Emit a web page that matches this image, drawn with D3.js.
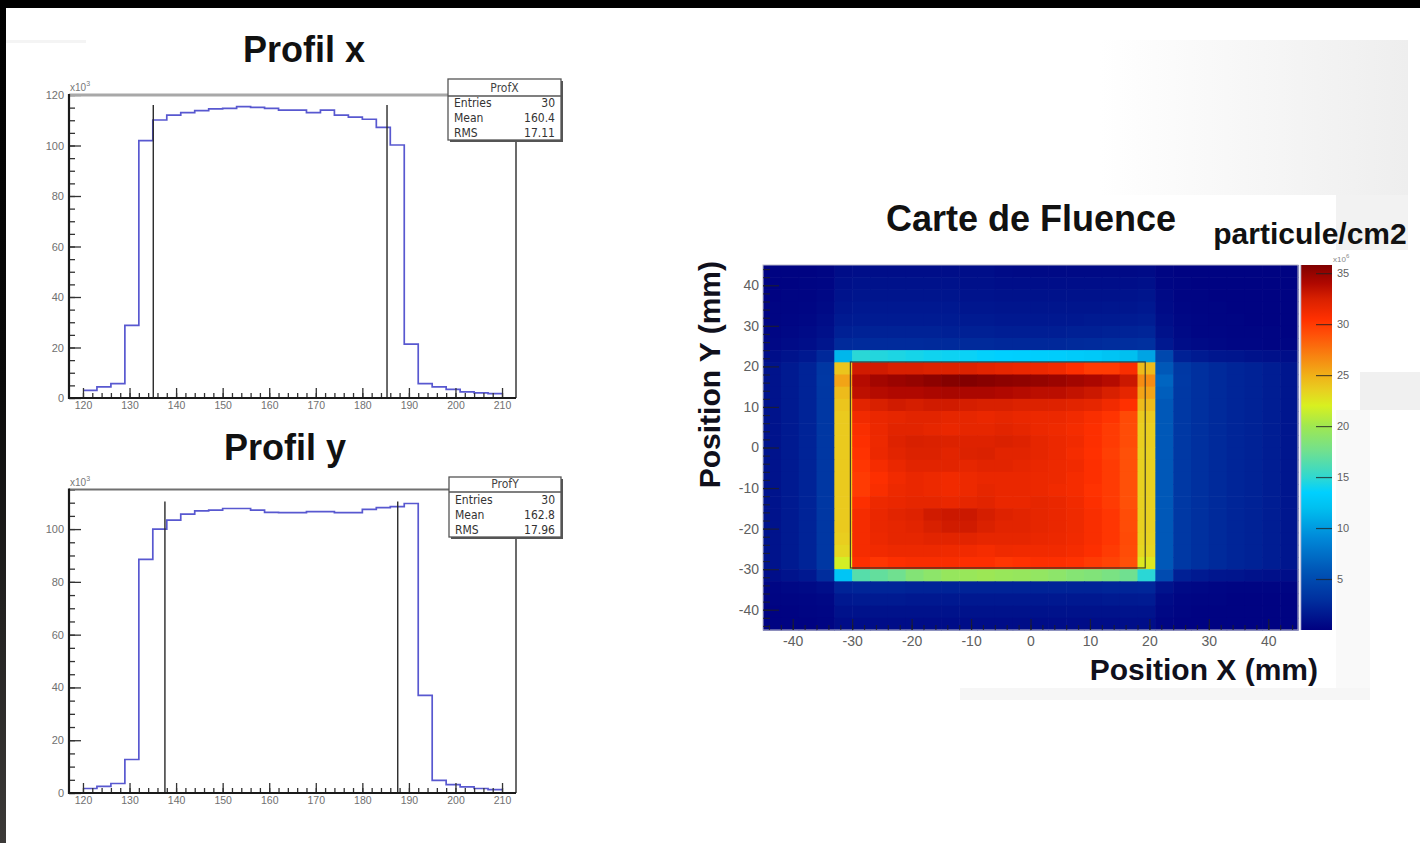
<!DOCTYPE html>
<html>
<head>
<meta charset="utf-8">
<script src="https://cdn.jsdelivr.net/npm/d3@7"></script>
<style>
  html, body { margin: 0; padding: 0; background: #000; }
  svg { display: block; }
</style>
</head>
<body>
<svg id="chart" width="1420" height="843"></svg>
<script>
// ---------------- data ----------------
// 1D profiles: 30 bins of 3 units, contents in units of 10^3
const binEdges = [120,123,126,129,132,135,138,141,144,147,150,153,156,159,162,165,
                  168,171,174,177,180,183,186,189,192,195,198,201,204,207,210];
const profXValues = [3.0,4.4,5.7,28.8,101.9,110.1,112.0,113.0,113.8,114.5,
                     114.7,115.4,115.1,114.7,114.0,114.0,113.0,114.0,112.0,111.2,
                     110.4,107.2,100.2,21.3,5.7,4.4,3.4,2.4,2.0,1.7];
const profYValues = [1.7,2.5,3.6,12.7,88.5,100.0,103.4,105.7,106.9,107.2,
                     107.8,107.8,107.2,106.3,106.2,106.2,106.6,106.6,106.2,106.2,
                     107.5,108.1,108.5,109.7,37.0,4.8,3.2,2.3,1.7,1.3];
const profXMarkers = [135.1, 185.3];
const profYMarkers = [137.6, 187.6];
const profXMarkerTop = [116];
const profYMarkerTop = [110.5];
const profXStats = [["Entries","30"],["Mean","160.4"],["RMS","17.11"]];
const profYStats = [["Entries","30"],["Mean","162.8"],["RMS","17.96"]];
const profXTicks = [120,130,140,150,160,170,180,190,200,210];
const profXYTicks = [0,20,40,60,80,100,120];
const profYYTicks = [0,20,40,60,80,100];

// 2D fluence map: 30 x 30 bins of 3 mm, top row (y = 42..45) first
const mapEdges = [-45,-42,-39,-36,-33,-30,-27,-24,-21,-18,-15,-12,-9,-6,-3,0,
                  3,6,9,12,15,18,21,24,27,30,33,36,39,42,45];
const fluenceRows = [
 [0.2,0.2,0.2,0.3, 0.8,0.9,0.9,0.9,0.9,0.9,0.9,0.9,0.9,0.7,0.6,0.6,0.6,0.6,0.6,0.6,0.6,0.7, 0.3,0.2,0.2,0.2,0.2,0.2,0.2,0.2],
 [0.2,0.2,0.3,0.4, 1.0,1.1,1.1,1.1,1.1,1.1,1.1,1.0,1.0,0.9,0.9,0.9,0.9,0.9,0.9,0.9,0.9,1.0, 0.4,0.3,0.2,0.2,0.2,0.2,0.2,0.2],
 [0.2,0.3,0.3,0.5, 1.2,1.3,1.3,1.3,1.3,1.3,1.3,1.2,1.2,1.1,1.1,1.1,1.1,1.1,1.1,1.1,1.2,1.3, 0.6,0.3,0.3,0.2,0.2,0.2,0.2,0.2],
 [0.3,0.3,0.4,0.6, 1.4,1.5,1.5,1.5,1.5,1.5,1.5,1.4,1.4,1.3,1.3,1.3,1.3,1.3,1.3,1.4,1.4,1.5, 0.7,0.4,0.3,0.3,0.2,0.2,0.2,0.2],
 [0.3,0.4,0.5,0.8, 1.6,1.7,1.7,1.7,1.7,1.7,1.7,1.6,1.6,1.5,1.5,1.5,1.5,1.5,1.6,1.6,1.7,1.8, 0.9,0.5,0.4,0.3,0.3,0.2,0.2,0.2],
 [0.4,0.5,0.7,1.0, 2.0,2.1,2.1,2.1,2.1,2.1,2.0,2.0,2.0,1.9,1.9,1.9,1.9,2.0,2.0,2.1,2.2,2.3, 1.1,0.6,0.4,0.4,0.3,0.3,0.3,0.2],
 [0.5,0.7,0.9,1.3, 2.6,2.7,2.7,2.7,2.7,2.6,2.6,2.6,2.6,2.5,2.5,2.5,2.5,2.6,2.7,2.8,2.9,3.0, 1.5,0.8,0.6,0.5,0.4,0.4,0.3,0.3],
 [0.9,1.2,1.5,2.5, 11.5,14.8,14.6,14.4,14.2,14.0,13.9,13.8,13.6,13.5,13.4,13.3,13.2,13.0,12.8,12.4,12.0,10.5, 4.8,2.0,1.6,1.4,1.3,1.1,1.0,0.9],
 [1.2,1.6,2.2,3.5, 24.0,32.8,32.8,32.5,32.5,32.3,32.3,32.3,32.0,31.8,31.6,31.5,31.2,30.6,30.0,30.0,30.8,24.5, 6.0,3.6,3.0,2.6,2.3,2.1,1.8,1.4],
 [1.2,1.6,2.2,3.6, 25.5,33.8,34.5,34.8,35.0,35.3,35.6,35.7,35.5,35.3,35.2,35.0,34.8,34.5,34.2,33.8,33.0,26.5, 6.8,3.7,3.0,2.6,2.3,2.1,1.8,1.4],
 [1.2,1.6,2.2,3.5, 24.5,33.5,33.8,34.0,34.0,34.2,34.3,34.2,34.2,34.0,33.8,33.6,33.6,33.3,33.0,32.5,31.8,25.5, 6.4,3.6,3.0,2.6,2.3,2.1,1.8,1.4],
 [1.2,1.6,2.2,3.5, 24.0,32.0,32.5,32.8,32.6,32.8,32.8,32.6,32.5,32.5,32.3,32.3,32.2,32.0,31.8,31.2,30.5,24.5, 6.0,3.6,3.0,2.6,2.3,2.1,1.8,1.4],
 [1.2,1.6,2.2,3.5, 23.8,31.2,31.6,31.8,32.0,32.0,31.8,31.8,31.6,31.8,31.6,31.5,31.5,31.2,30.8,30.3,29.3,23.8, 6.0,3.6,3.0,2.6,2.3,2.1,1.8,1.4],
 [1.2,1.6,2.2,3.5, 23.8,30.8,31.5,32.0,32.0,31.8,31.6,31.8,31.8,32.0,31.8,31.5,31.3,31.0,30.6,30.0,29.2,23.6, 6.0,3.6,3.0,2.6,2.3,2.1,1.8,1.4],
 [1.2,1.6,2.2,3.5, 23.8,30.6,31.4,32.2,32.5,32.4,32.3,32.2,32.2,32.4,32.2,31.8,31.5,31.2,30.6,30.0,29.2,23.6, 6.0,3.6,3.0,2.6,2.3,2.1,1.8,1.4],
 [1.2,1.6,2.2,3.5, 23.8,30.4,31.5,32.0,32.3,32.3,32.0,32.3,32.4,32.0,32.0,31.8,31.5,31.0,30.5,29.8,29.0,23.5, 6.0,3.6,3.0,2.6,2.3,2.1,1.8,1.4],
 [1.2,1.6,2.2,3.5, 23.8,30.2,31.0,31.6,32.0,32.0,32.0,31.8,32.0,32.0,31.8,31.6,31.4,31.2,30.6,30.0,29.0,23.5, 6.0,3.6,3.0,2.6,2.3,2.1,1.8,1.4],
 [1.2,1.6,2.2,3.5, 23.8,30.0,30.6,31.2,31.6,31.4,31.2,31.4,31.6,31.6,31.6,31.5,31.4,31.0,30.6,30.0,29.0,23.5, 6.0,3.6,3.0,2.6,2.3,2.1,1.8,1.4],
 [1.2,1.6,2.2,3.5, 23.8,30.0,30.8,31.4,31.6,31.4,31.2,31.4,31.8,31.6,31.6,31.5,31.2,31.0,30.4,30.0,29.0,23.5, 6.0,3.6,3.0,2.6,2.3,2.1,1.8,1.4],
 [1.2,1.6,2.2,3.5, 23.8,30.6,31.4,31.6,31.8,31.8,31.6,31.8,32.0,31.6,31.6,31.8,31.6,31.2,30.6,30.0,29.0,23.5, 6.0,3.6,3.0,2.6,2.3,2.1,1.8,1.4],
 [1.2,1.6,2.2,3.5, 23.8,31.0,31.6,32.0,32.2,32.8,33.0,33.0,32.6,32.2,32.0,31.8,31.6,31.3,30.8,30.2,29.2,23.5, 6.0,3.6,3.0,2.6,2.3,2.1,1.8,1.4],
 [1.2,1.6,2.2,3.5, 23.8,31.0,31.6,31.8,32.0,32.5,32.8,32.8,32.4,32.0,32.0,31.8,31.6,31.3,30.8,30.2,29.2,23.5, 6.0,3.6,3.0,2.6,2.3,2.1,1.8,1.4],
 [1.2,1.6,2.2,3.5, 23.6,31.0,31.5,31.8,31.8,32.0,32.0,32.0,31.8,31.8,31.8,31.6,31.5,31.2,30.8,30.2,29.3,23.4, 6.0,3.6,3.0,2.6,2.3,2.1,1.8,1.4],
 [1.2,1.6,2.2,3.5, 23.2,31.0,31.2,31.4,31.4,31.4,31.3,31.2,31.0,31.3,31.2,31.2,31.2,31.0,30.6,30.0,29.2,23.2, 6.0,3.6,3.0,2.6,2.3,2.1,1.8,1.4],
 [1.2,1.6,2.2,3.5, 21.8,30.6,30.2,30.6,30.8,30.8,30.8,30.6,30.6,30.2,30.4,30.6,30.6,30.4,30.0,29.6,29.0,22.4, 6.0,3.6,3.0,2.6,2.3,2.1,1.8,1.4],
 [0.9,1.2,1.5,2.8, 12.5,16.5,17.0,17.5,18.5,19.0,19.5,19.6,19.8,19.6,19.5,19.3,19.0,18.6,18.4,18.0,17.5,14.8, 5.0,2.0,1.6,1.4,1.3,1.1,1.0,0.9],
 [0.4,0.5,0.6,0.9, 2.2,2.3,2.3,2.3,2.2,2.2,2.2,2.2,2.2,2.2,2.2,2.2,2.2,2.2,2.2,2.3,2.3,2.4, 1.2,0.6,0.5,0.4,0.3,0.3,0.3,0.3],
 [0.3,0.3,0.4,0.5, 1.5,1.6,1.6,1.6,1.5,1.5,1.5,1.5,1.5,1.5,1.5,1.5,1.5,1.5,1.5,1.6,1.6,1.7, 0.7,0.4,0.3,0.3,0.2,0.2,0.2,0.2],
 [0.2,0.2,0.3,0.4, 1.1,1.1,1.1,1.1,1.1,1.1,1.1,1.1,1.1,1.1,1.1,1.1,1.1,1.1,1.1,1.1,1.2,1.2, 0.5,0.3,0.2,0.2,0.2,0.2,0.2,0.2],
 [0.2,0.2,0.2,0.3, 0.8,0.8,0.8,0.8,0.8,0.8,0.8,0.8,0.8,0.8,0.8,0.8,0.8,0.8,0.8,0.8,0.9,0.9, 0.3,0.2,0.2,0.2,0.2,0.2,0.2,0.2]
];
const fieldX = [-30.3, 19.3];
const fieldY = [-29.7, 21.1];
const mapTicks = [-40,-30,-20,-10,0,10,20,30,40];
const zMax = [35.8];
const colorTicks = [5,10,15,20,25,30,35];
const paletteValues = [0,3,6,9,12,13.5,15,17.5,20,22,23.5,25,27,29,30.5,32.5,34,35.8];
const paletteColors = ["#000080","#00309f","#0058b8","#0088d8","#00c0f0","#00d0ff","#30d8d0",
                       "#70e090","#a0e850","#d8f020","#e8d020","#f0b018","#f88010","#ff5008",
                       "#ff3000","#d82000","#b00800","#800000"];

// ---------------- drawing ----------------
const W = 1420, H = 843;
const svg = d3.select("#chart");
const defs = svg.append("defs");
const SANS = "'Liberation Sans', Arial, sans-serif";
const NARROW = "'Liberation Sans Narrow', 'DejaVu Sans Condensed', 'Liberation Sans', sans-serif";
const plain = d => String(d);   // hyphen-minus labels, as in ROOT output

// page
svg.append("rect").attr("width", W).attr("height", H).attr("fill", "#fff");

// faint slide background panels
const gGray = defs.append("linearGradient").attr("id", "grayFade").attr("x1", 0).attr("x2", 1).attr("y1", 0).attr("y2", 0);
gGray.append("stop").attr("offset", 0).attr("stop-color", "#fff");
gGray.append("stop").attr("offset", 1).attr("stop-color", "#eeeeee");
svg.append("rect").attr("x", 1100).attr("y", 40).attr("width", 308).attr("height", 155).attr("fill", "url(#grayFade)");
svg.append("rect").attr("x", 1336).attr("y", 195).attr("width", 72).attr("height", 55).attr("fill", "#f2f2f2");
svg.append("rect").attr("x", 1360).attr("y", 372).attr("width", 60).attr("height", 38).attr("fill", "#f0f0f0");
svg.append("rect").attr("x", 1336).attr("y", 410).attr("width", 34).attr("height", 290).attr("fill", "#f9f9f9");
svg.append("rect").attr("x", 960).attr("y", 688).attr("width", 410).attr("height", 12).attr("fill", "#f6f6f6");
svg.append("rect").attr("x", 6).attr("y", 40).attr("width", 80).attr("height", 3).attr("fill", "#f4f4f4");

// dark edges of the frame
svg.append("rect").attr("x", 0).attr("y", 0).attr("width", W).attr("height", 8).attr("fill", "#000");
const gEdge = defs.append("linearGradient").attr("id", "edgeFade").attr("x1", 0).attr("x2", 0).attr("y1", 0).attr("y2", 1);
gEdge.append("stop").attr("offset", 0).attr("stop-color", "#000");
gEdge.append("stop").attr("offset", 0.45).attr("stop-color", "#0a0a0a");
gEdge.append("stop").attr("offset", 1).attr("stop-color", "#3c3a38");
svg.append("rect").attr("x", 0).attr("y", 0).attr("width", 6).attr("height", H).attr("fill", "url(#edgeFade)");

// ---------- profile histograms ----------
function drawProfile(p) {
  const g = svg.append("g");
  const x = d3.scaleLinear().domain(p.xDomain).range([p.left, p.right]);
  const y = d3.scaleLinear().domain(p.yDomain).range([p.bottom, p.top]);

  g.append("text").attr("x", p.titleX).attr("y", p.titleY)
    .attr("text-anchor", "middle").attr("font-family", SANS).attr("font-weight", "bold")
    .attr("font-size", 36).attr("fill", "#111").text(p.title);

  // histogram outline
  const pts = p.values.map((v, i) => [binEdges[i], v]).concat([[binEdges[binEdges.length - 1], p.values[p.values.length - 1]]]);
  const line = d3.line().x(d => x(d[0])).y(d => y(d[1])).curve(d3.curveStepAfter);
  g.append("path").attr("d", line(pts)).attr("fill", "none")
    .attr("stroke", "#5858d0").attr("stroke-width", 1.7);

  // marker lines
  p.markers.forEach(m => {
    g.append("line").attr("x1", x(m)).attr("x2", x(m)).attr("y1", y(0)).attr("y2", y(p.markerTop[0]))
      .attr("stroke", "#2a2a2a").attr("stroke-width", 1.4);
  });

  // axes: ticks drawn inside the frame
  const axY = d3.axisLeft(y).tickValues(p.yTicks).tickSize(-12).tickPadding(5).tickFormat(plain);
  const axYm = d3.axisLeft(y).tickValues(d3.range(0, p.yDomain[1] + 0.01, 5)).tickSize(-6).tickFormat("");
  const axX = d3.axisBottom(x).tickValues(p.xTicks).tickSize(-10).tickPadding(4).tickFormat(plain);
  const axXm = d3.axisBottom(x).tickValues(d3.range(120, 212, 2)).tickSize(-5).tickFormat("");
  [axYm, axY].forEach(a => {
    const s = g.append("g").attr("transform", `translate(${p.left},0)`).call(a);
    s.select(".domain").remove();
    s.selectAll("line").attr("stroke", "#333").attr("stroke-width", 1.3);
    s.selectAll("text").attr("font-family", SANS).attr("font-size", 11).attr("fill", "#707070");
  });
  [axXm, axX].forEach(a => {
    const s = g.append("g").attr("transform", `translate(0,${p.bottom})`).call(a);
    s.select(".domain").remove();
    s.selectAll("line").attr("stroke", "#333").attr("stroke-width", 1.3);
    s.selectAll("text").attr("font-family", SANS).attr("font-size", 10.5).attr("fill", "#707070");
  });

  // frame
  g.append("line").attr("x1", p.left).attr("x2", p.right).attr("y1", p.top).attr("y2", p.top)
    .attr("stroke", p.topColor).attr("stroke-width", p.topWidth);
  g.append("line").attr("x1", p.right).attr("x2", p.right).attr("y1", p.top).attr("y2", p.bottom)
    .attr("stroke", "#3a3a3a").attr("stroke-width", 1.5);
  g.append("line").attr("x1", p.left).attr("x2", p.left).attr("y1", p.top - 1).attr("y2", p.bottom + 1)
    .attr("stroke", "#1a1a1a").attr("stroke-width", 2.2);
  g.append("line").attr("x1", p.left - 1).attr("x2", p.right).attr("y1", p.bottom).attr("y2", p.bottom)
    .attr("stroke", "#1a1a1a").attr("stroke-width", 2.2);

  // exponent label
  const ex = g.append("text").attr("x", p.left + 1).attr("y", p.top - 4)
    .attr("font-family", SANS).attr("font-size", 10).attr("fill", "#777");
  ex.append("tspan").text("x10");
  ex.append("tspan").attr("dy", -5).attr("font-size", 7).text("3");

  // statistics box
  const b = p.box;
  g.append("rect").attr("x", b.x + 2).attr("y", b.y + 2).attr("width", b.w).attr("height", b.h).attr("fill", "#555");
  g.append("rect").attr("x", b.x).attr("y", b.y).attr("width", b.w).attr("height", b.h)
    .attr("fill", "#fff").attr("stroke", "#555").attr("stroke-width", 1.3);
  g.append("line").attr("x1", b.x).attr("x2", b.x + b.w).attr("y1", b.y + b.head).attr("y2", b.y + b.head)
    .attr("stroke", "#555").attr("stroke-width", 1.3);
  g.append("text").attr("x", b.x + b.w / 2).attr("y", b.y + b.head - 4).attr("text-anchor", "middle")
    .attr("font-family", NARROW).attr("font-size", 12).attr("fill", "#444").text(p.statsName);
  const rowH = (b.h - b.head) / p.stats.length;
  p.stats.forEach((r, i) => {
    const yy = b.y + b.head + rowH * (i + 0.5) + 4;
    g.append("text").attr("x", b.x + 6).attr("y", yy).attr("font-family", NARROW)
      .attr("font-size", 12).attr("fill", "#333").text(r[0]);
    g.append("text").attr("x", b.x + b.w - 6).attr("y", yy).attr("text-anchor", "end")
      .attr("font-family", NARROW).attr("font-size", 12).attr("fill", "#333").text(r[1]);
  });
}

drawProfile({
  title: "Profil x", titleX: 304, titleY: 62,
  left: 69, right: 516, top: 95, bottom: 398,
  xDomain: [117, 213], yDomain: [0, 120],
  values: profXValues, markers: profXMarkers, markerTop: profXMarkerTop,
  xTicks: profXTicks, yTicks: profXYTicks,
  topColor: "#a8a8a8", topWidth: 3,
  box: { x: 448, y: 79, w: 113, h: 61, head: 17 },
  statsName: "ProfX", stats: profXStats
});
drawProfile({
  title: "Profil y", titleX: 285, titleY: 460,
  left: 69, right: 516, top: 489.5, bottom: 793,
  xDomain: [117, 213], yDomain: [0, 115],
  values: profYValues, markers: profYMarkers, markerTop: profYMarkerTop,
  xTicks: profXTicks, yTicks: profYYTicks,
  topColor: "#707070", topWidth: 2,
  box: { x: 449, y: 477, w: 112, h: 60, head: 15 },
  statsName: "ProfY", stats: profYStats
});

// ---------- fluence map ----------
const hx = d3.scaleLinear().domain([-45, 45]).range([763, 1298]);
const hy = d3.scaleLinear().domain([-45, 45]).range([630, 265]);
const color = d3.scaleLinear().domain(paletteValues).range(paletteColors).interpolate(d3.interpolateRgb).clamp(true);
const nRows = fluenceRows.length;
const cells = [];
fluenceRows.forEach((row, r) => {
  const j = nRows - 1 - r;
  row.forEach((v, i) => cells.push({ x0: mapEdges[i], x1: mapEdges[i + 1], y0: mapEdges[j], y1: mapEdges[j + 1], v }));
});
const gm = svg.append("g");
gm.selectAll("rect.cell").data(cells).join("rect").attr("class", "cell")
  .attr("x", d => hx(d.x0)).attr("y", d => hy(d.y1))
  .attr("width", d => hx(d.x1) - hx(d.x0) + 0.6).attr("height", d => hy(d.y0) - hy(d.y1) + 0.6)
  .attr("fill", d => color(d.v));
gm.append("rect").attr("x", 763).attr("y", 265).attr("width", 535).attr("height", 365)
  .attr("fill", "none").attr("stroke", "#b8b8c8").attr("stroke-width", 1);

// field edge outline
gm.append("rect").attr("x", hx(fieldX[0])).attr("y", hy(fieldY[1]))
  .attr("width", hx(fieldX[1]) - hx(fieldX[0])).attr("height", hy(fieldY[0]) - hy(fieldY[1]))
  .attr("fill", "none").attr("stroke", "#2a2a2a").attr("stroke-opacity", 0.85).attr("stroke-width", 1.2);

// axes of the map
function styleAxis(s, size) {
  s.select(".domain").remove();
  s.selectAll("line").attr("stroke", "#222").attr("stroke-opacity", 0.75).attr("stroke-width", 1.2);
  s.selectAll("text").attr("font-family", SANS).attr("font-size", size).attr("fill", "#606060");
}
styleAxis(gm.append("g").attr("transform", "translate(0,630)")
  .call(d3.axisBottom(hx).tickValues(d3.range(-44, 45, 2)).tickSize(-5).tickFormat("")), 13);
styleAxis(gm.append("g").attr("transform", "translate(0,630)")
  .call(d3.axisBottom(hx).tickValues(mapTicks).tickSize(-11).tickPadding(6).tickFormat(plain)), 14);
styleAxis(gm.append("g").attr("transform", "translate(763,0)")
  .call(d3.axisLeft(hy).tickValues(d3.range(-44, 45, 2)).tickSize(-7).tickFormat("")), 13);
styleAxis(gm.append("g").attr("transform", "translate(763,0)")
  .call(d3.axisLeft(hy).tickValues(mapTicks).tickSize(-16).tickPadding(4).tickFormat(plain)), 14);

// colour bar
const cz = d3.scaleLinear().domain([0, zMax[0]]).range([630, 265]);
const grad = defs.append("linearGradient").attr("id", "palette").attr("x1", 0).attr("x2", 0).attr("y1", 1).attr("y2", 0);
paletteValues.forEach((v, i) => grad.append("stop").attr("offset", v / zMax[0]).attr("stop-color", paletteColors[i]));
gm.append("rect").attr("x", 1301).attr("y", 265).attr("width", 31).attr("height", 365).attr("fill", "url(#palette)");
gm.append("line").attr("x1", 1300.5).attr("x2", 1300.5).attr("y1", 265).attr("y2", 630).attr("stroke", "#c8c8e0").attr("stroke-width", 1.5);
const cb = gm.append("g").attr("transform", "translate(1332,0)")
  .call(d3.axisRight(cz).tickValues(colorTicks).tickSize(-16).tickPadding(5).tickFormat(plain));
cb.select(".domain").remove();
cb.selectAll("line").attr("stroke", "#222").attr("stroke-opacity", 0.75).attr("stroke-width", 1.2);
cb.selectAll("text").attr("font-family", SANS).attr("font-size", 11).attr("fill", "#606060");
const cex = gm.append("text").attr("x", 1333).attr("y", 262).attr("font-family", SANS).attr("font-size", 8).attr("fill", "#888");
cex.append("tspan").text("x10");
cex.append("tspan").attr("dy", -4).attr("font-size", 6).text("6");

// titles of the map
svg.append("text").attr("x", 1031).attr("y", 231).attr("text-anchor", "middle")
  .attr("font-family", SANS).attr("font-weight", "bold").attr("font-size", 36).attr("fill", "#111")
  .text("Carte de Fluence");
svg.append("text").attr("x", 1310).attr("y", 244).attr("text-anchor", "middle")
  .attr("font-family", SANS).attr("font-weight", "bold").attr("font-size", 30).attr("fill", "#111")
  .text("particule/cm2");
svg.append("text").attr("x", 1318).attr("y", 680).attr("text-anchor", "end")
  .attr("font-family", SANS).attr("font-weight", "bold").attr("font-size", 30).attr("fill", "#10101c")
  .text("Position X (mm)");
svg.append("text").attr("transform", "translate(720,261) rotate(-90)").attr("text-anchor", "end")
  .attr("font-family", SANS).attr("font-weight", "bold").attr("font-size", 30).attr("fill", "#10101c")
  .text("Position Y (mm)");
</script>
</body>
</html>
